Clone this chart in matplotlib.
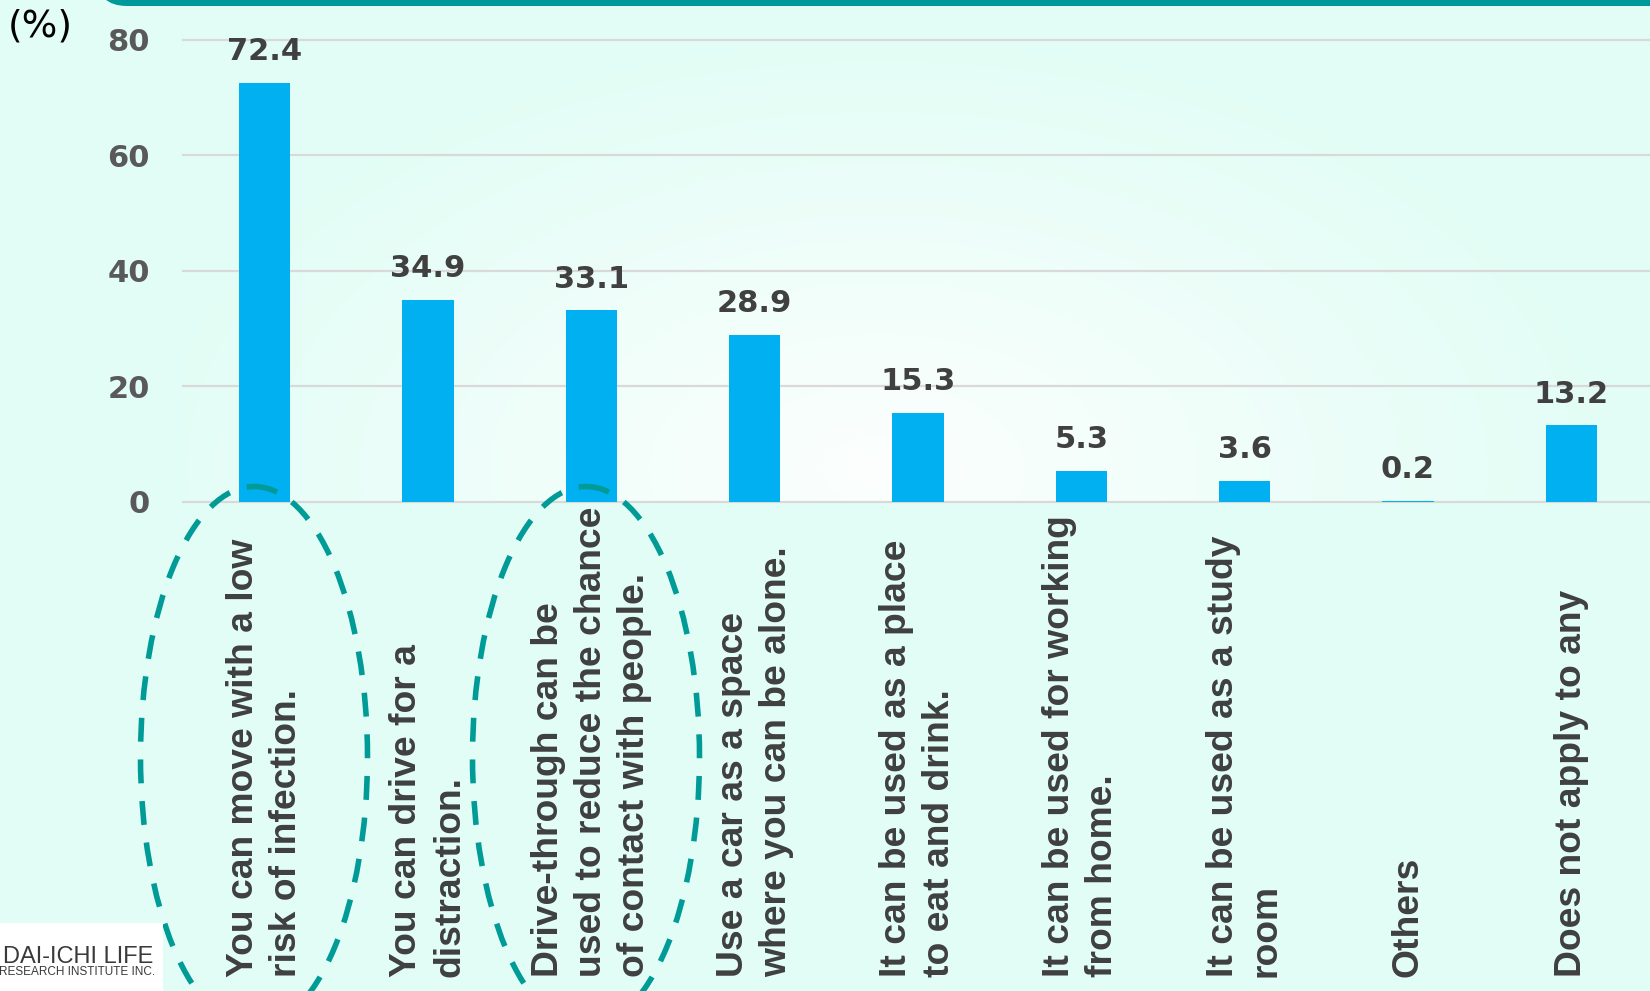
import numpy as np
import matplotlib.pyplot as plt
import matplotlib.transforms as mtransforms
from matplotlib.patches import Ellipse, FancyBboxPatch, Rectangle

# survey answers (%), one bar per answer
categories = [
    "You can move with a low\nrisk of infection.",
    "You can drive for a\ndistraction.",
    "Drive-through can be\nused to reduce the chance\nof contact with people.",
    "Use a car as a space\nwhere you can be alone.",
    "It can be used as a place\nto eat and drink.",
    "It can be used for working\nfrom home.",
    "It can be used as a study\nroom",
    "Others",
    "Does not apply to any",
]
values = [72.4, 34.9, 33.1, 28.9, 15.3, 5.3, 3.6, 0.2, 13.2]
yticks = [0, 20, 40, 60, 80]

W, H = 1650, 991
MINT = np.array([225, 253, 245]) / 255.0
WHITE = np.array([252, 255, 254]) / 255.0
BAR = "#00B0F0"
TEAL = "#009999"

# plot area in pixels (left, top, right, bottom)
pl, pt, pr, pb = 183, 39.5, 1653, 501.7

fig = plt.figure(figsize=(W / 100, H / 100), dpi=100)

# background: mint, with a soft white glow inside the plot area
bg = fig.add_axes([0, 0, 1, 1])
bg.set_zorder(0)
yy, xx = np.mgrid[0:H, 0:W]
img = np.ones((H, W, 3)) * MINT
t = np.sqrt(((xx - 880) / 780.0) ** 2 + ((yy - 470) / 460.0) ** 2).clip(0, 1)
glow = WHITE * (1 - t)[..., None] + MINT * t[..., None]
mask = (xx >= pl) & (yy >= pt) & (yy <= pb)
img[mask] = glow[mask]
bg.imshow(img, extent=(0, W, H, 0), aspect="auto", interpolation="bilinear")
bg.set_xlim(0, W)
bg.set_ylim(H, 0)
bg.axis("off")

ax = fig.add_axes([pl / W, (H - pb) / H, (pr - pl) / W, (pb - pt) / H])
ax.set_zorder(1)
ax.patch.set_alpha(0)

x = np.arange(len(values))
ax.bar(x, values, width=0.313, color=BAR, zorder=2)
for yv in yticks:
    ax.axhline(yv, color="#D9D9D9", lw=1.6, zorder=1, clip_on=False)

for i, v in enumerate(values):
    ax.annotate(f"{v}", (i, v), xytext=(0, 16.5), textcoords="offset points",
                ha="center", va="baseline", fontsize=22, fontweight="bold",
                color="#404040")

ax.set_xlim(-0.5, 8.5)
ax.set_ylim(0, 80)
ax.set_xticks([])
ax.set_yticks(yticks)
ax.set_yticklabels([str(v) for v in yticks], fontsize=22, fontweight="bold",
                   color="#595959")
ax.tick_params(axis="y", length=0, pad=24)
for s in ax.spines.values():
    s.set_visible(False)

# rotated category labels, starting at the bottom of the figure
trans = mtransforms.blended_transform_factory(ax.transData, fig.transFigure)
for i, lab in enumerate(categories):
    ax.text(i, 14 / H, lab, transform=trans, rotation=90, rotation_mode="anchor",
            ha="left", va="center", multialignment="left", linespacing=1.3,
            fontsize=26.8, fontweight="bold", family="Liberation Sans",
            color="#3f3f3f", clip_on=False)

# overlay in pixel coordinates
top = fig.add_axes([0, 0, 1, 1])
top.set_zorder(2)
top.patch.set_alpha(0)
top.set_xlim(0, W)
top.set_ylim(H, 0)
top.axis("off")

top.add_patch(FancyBboxPatch((97, -100), 1700, 106,
                             boxstyle="round,pad=0,rounding_size=30",
                             fc=TEAL, ec="none"))

for cx in (254, 586):
    top.add_patch(Ellipse((cx, 757), 227, 541, fill=False, ec="#009B96",
                          lw=4, ls=(0, (4.3, 3.2))))

top.text(8, 27, "(%)", ha="left", va="center", fontsize=27, color="black")

top.add_patch(Rectangle((0, 923), 163, 70, fc="white", ec="none"))
top.text(153, 963, "DAI-ICHI LIFE", ha="right", va="baseline", fontsize=17,
         family="Liberation Sans", color="#3a3a3a")
top.text(155, 975, "RESEARCH INSTITUTE INC.", ha="right", va="baseline",
         fontsize=8.5, family="Liberation Sans", color="#3a3a3a")

fig.savefig("out.png", dpi=100)
